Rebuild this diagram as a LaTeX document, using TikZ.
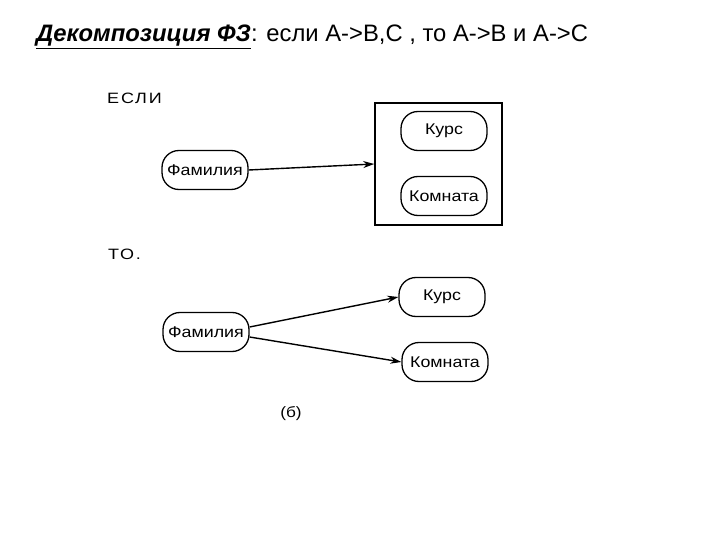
\documentclass[tikz,border=0pt]{standalone}
\usepackage{fontspec}
\setmainfont{Liberation Sans}
\newfontfamily\scanfont[FakeStretch=1.15]{Liberation Sans}
\newfontfamily\widefont[FakeStretch=1.2, LetterSpace=12]{Liberation Sans}
\usetikzlibrary{arrows.meta,positioning}

\begin{document}
\begin{tikzpicture}[x=1pt, y=-1pt,
  pill/.style={draw, line width=1.3pt, rounded corners=17pt, minimum height=39pt, minimum width=86pt, inner sep=1pt, font=\scanfont\fontsize{15.5}{17}\selectfont},
  label/.style={font=\widefont\fontsize{15}{17}\selectfont, anchor=west, inner sep=0pt},
  arrow/.style={-{Stealth[length=11pt, width=7pt]}, line width=1.4pt},
]
\useasboundingbox (0,0) rectangle (720,540);
% --- title ---
\node[anchor=west, inner sep=0pt, font=\fontsize{23.8}{26}\selectfont] (title) at (36,37)
  {\underline{\textbf{\textit{Декомпозиция ФЗ}}}: если A->B,C , то A->B и A->C};
% --- upper part: if ---
\node[label] (esli) at (107,98) {ЕСЛИ};
\node[pill] (fam) at (205,170) {Фамилия};
\node[draw, line width=1.6pt, minimum width=127pt, minimum height=122pt] (grp) at (438.5,164) {};
\node[pill] (kurs) at (444,131) {Курс};
\node[pill] (komn) at (444,196) {Комната};
% --- lower part: then ---
\node[label] (to) at (108,254) {ТО.};
\node[pill] (fam2) at (206,332) {Фамилия};
\node[pill] (kurs2) at (442,297) {Курс};
\node[pill] (komn2) at (445,362) {Комната};
\node[font=\scanfont\fontsize{15}{17}\selectfont] (cap) at (291,414) {(б)};
% --- arrows ---
\draw[arrow] (fam.east) -- (grp.west);
\draw[arrow] ([yshift=5pt]fam2.east) -- (kurs2.west);
\draw[arrow] ([yshift=-5pt]fam2.east) -- (komn2.west);
\end{tikzpicture}
\end{document}
